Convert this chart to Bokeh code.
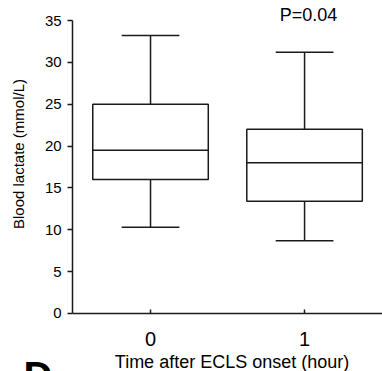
import math
from bokeh.plotting import figure
from bokeh.models import FixedTicker, Range1d, Label
from bokeh.embed import file_html
from bokeh.resources import INLINE

# data
groups = [0, 1]
group_labels = ["0", "1"]
q1 = [16.0, 13.4]
median = [19.5, 18.0]
q3 = [25.0, 22.0]
whisker_low = [10.3, 8.7]
whisker_high = [33.2, 31.2]
y_ticks = [0, 5, 10, 15, 20, 25, 30, 35]
p_text = "P=0.04"
x_title = "Time after ECLS onset (hour)"
y_title = "Blood lactate (mmol/L)"

FONT = "Liberation Sans"
LC = "#1a1a1a"
box_w = 0.75
cap_w = 0.375
x_left = -0.506

p = figure(width=382, height=371, output_backend="svg", toolbar_location=None,
           x_range=Range1d(-0.974, 1.506), y_range=Range1d(-6.93, 37.39),
           min_border_left=0, min_border_right=0, min_border_top=0,
           min_border_bottom=0)
p.outline_line_color = None
p.xgrid.visible = False
p.ygrid.visible = False
p.background_fill_color = "white"
p.border_fill_color = "white"

# whiskers
p.segment(x0=groups, y0=q3, x1=groups, y1=whisker_high, line_color=LC, line_width=1.5)
p.segment(x0=groups, y0=q1, x1=groups, y1=whisker_low, line_color=LC, line_width=1.5)
p.segment(x0=[g - cap_w / 2 for g in groups], y0=whisker_high,
          x1=[g + cap_w / 2 for g in groups], y1=whisker_high, line_color=LC, line_width=1.5)
p.segment(x0=[g - cap_w / 2 for g in groups], y0=whisker_low,
          x1=[g + cap_w / 2 for g in groups], y1=whisker_low, line_color=LC, line_width=1.5)
# boxes
p.vbar(x=groups, width=box_w, bottom=q1, top=q3, fill_color="white",
       line_color=LC, line_width=1.5)
# medians
p.segment(x0=[g - box_w / 2 for g in groups], y0=median,
          x1=[g + box_w / 2 for g in groups], y1=median, line_color=LC, line_width=1.5)

# axes
xa = p.xaxis[0]
xa.fixed_location = 0
xa.bounds = (x_left, 1.506)
xa.ticker = FixedTicker(ticks=groups)
xa.major_label_overrides = {g: s for g, s in zip(groups, group_labels)}
xa.major_tick_in = 4
xa.major_tick_out = 0
xa.minor_tick_line_color = None
xa.axis_line_width = 1.5
xa.axis_line_color = LC
xa.major_tick_line_color = LC
xa.major_tick_line_width = 1.5
xa.major_label_text_font = FONT
xa.major_label_text_font_size = "20px"
xa.major_label_text_color = "black"
xa.major_label_standoff = 19

ya = p.yaxis[0]
ya.fixed_location = x_left
ya.bounds = (0, 35)
ya.ticker = FixedTicker(ticks=y_ticks)
ya.major_tick_in = 0
ya.major_tick_out = 5
ya.minor_tick_line_color = None
ya.axis_line_width = 1.5
ya.axis_line_color = LC
ya.major_tick_line_color = LC
ya.major_tick_line_width = 1.5
ya.major_label_text_font = FONT
ya.major_label_text_font_size = "15px"
ya.major_label_text_color = "black"
ya.major_label_standoff = 6

p.add_layout(Label(x=0.529, y=-5.82, text=x_title, text_font=FONT, text_font_size="18px",
                   text_align="center", text_baseline="alphabetic", text_color="black"))
p.add_layout(Label(x=-0.860, y=19.05, text=y_title, text_font=FONT, text_font_size="15px",
                   text_align="center", text_baseline="middle", angle=math.pi / 2,
                   text_color="black"))
p.add_layout(Label(x=1.026, y=35.6, text=p_text, text_font=FONT, text_font_size="18px",
                   text_align="center", text_baseline="alphabetic", text_color="black"))
p.add_layout(Label(x=-0.825, y=-4.83, text="D", text_font=FONT, text_font_size="40px",
                   text_font_style="bold", text_align="left", text_baseline="top",
                   text_color="black"))

open("out.html", "w").write(file_html(p, INLINE))
